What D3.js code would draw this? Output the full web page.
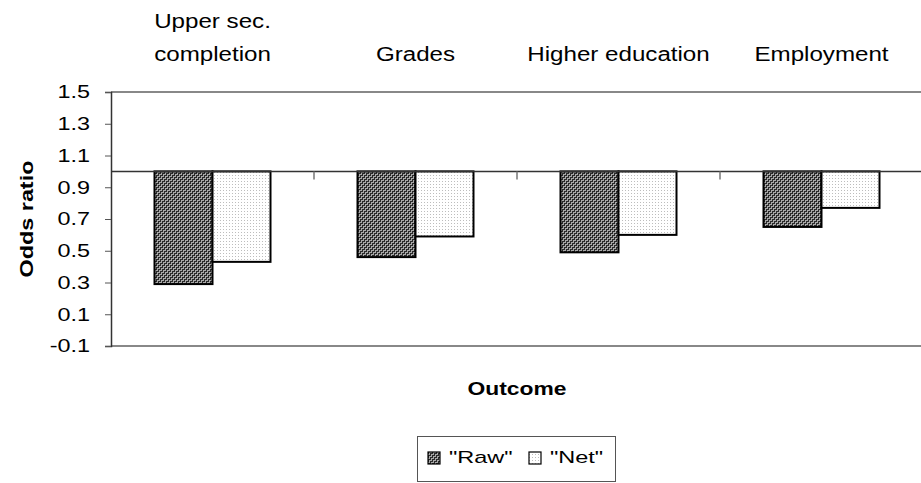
<!DOCTYPE html>
<html>
<head>
<meta charset="utf-8">
<script src="https://cdn.jsdelivr.net/npm/d3@7"></script>
<style>
  body { margin: 0; background: #fff; }
  svg { display: block; font-family: "Liberation Sans", Arial, sans-serif; }
</style>
</head>
<body>
<svg id="chart" width="921" height="483"></svg>
<script>
const categories = [["Upper sec.", "completion"], ["Grades"], ["Higher education"], ["Employment"]];
const categoryKeys = ["Upper sec. completion", "Grades", "Higher education", "Employment"];
const seriesNames = ["\"Raw\"", "\"Net\""];
const rawValues = [0.29, 0.46, 0.49, 0.65];
const netValues = [0.43, 0.59, 0.60, 0.77];
const yTicks = [-0.1, 0.1, 0.3, 0.5, 0.7, 0.9, 1.1, 1.3, 1.5];
const baseline = 1.0;

(function () {
const svg = d3.select("#chart");
const W = 921;
const pLeft = 111, pRight = 923, pTop = 92, pBottom = 346;

// helper: horizontally stretched text (reference text is widened)
function sText(parent, tf, str, size, sx, anchor, weight) {
  const g = parent.append("g").attr("transform", tf + ` scale(${sx},1)`);
  return g.append("text").attr("x", 0).attr("y", 0)
    .attr("text-anchor", anchor || "start")
    .attr("font-size", size).attr("font-weight", weight || "normal")
    .attr("fill", "#000").text(str);
}

const defs = svg.append("defs");
// Raw: dark fine diagonal hatch
const p1 = defs.append("pattern").attr("id", "rawPat").attr("patternUnits", "userSpaceOnUse")
  .attr("width", 4).attr("height", 4);
p1.append("rect").attr("width", 4).attr("height", 4).attr("fill", "#a8a8a8");
for (let x = 0; x < 4; x++) for (let yy = 0; yy < 4; yy++) {
  if ((x + yy) % 4 === 0 || (x + yy) % 2 === 1 && (x % 2 === 0)) {
    p1.append("rect").attr("x", x).attr("y", yy).attr("width", 1).attr("height", 1).attr("fill", "#2a2a2a");
  }
}
// Net: light dotted
const p2 = defs.append("pattern").attr("id", "netPat").attr("patternUnits", "userSpaceOnUse")
  .attr("width", 3).attr("height", 3);
p2.append("rect").attr("width", 3).attr("height", 3).attr("fill", "#fff");
p2.append("rect").attr("x", 1).attr("y", 1).attr("width", 1).attr("height", 1).attr("fill", "#bdbdbd");

const y = d3.scaleLinear().domain([-0.1, 1.5]).range([pBottom, pTop]);
const xs = d3.scaleBand().domain(categoryKeys).range([pLeft, pRight]).padding(0);
const step = xs.step();
const barW = step / 3.5;  // gap width 150%
const xi = d3.scaleBand().domain([0, 1]).range([0, 2 * barW]);

// plot area border top/bottom
svg.append("line").attr("x1", pLeft).attr("x2", W).attr("y1", y(1.5)).attr("y2", y(1.5))
  .attr("stroke", "#888").attr("stroke-width", 2);
svg.append("line").attr("x1", pLeft).attr("x2", W).attr("y1", y(-0.1)).attr("y2", y(-0.1))
  .attr("stroke", "#888").attr("stroke-width", 2);

// bars
const series = [rawValues, netValues];
const fills = ["url(#rawPat)", "url(#netPat)"];
series.forEach((vals, si) => {
  svg.append("g").selectAll("rect").data(vals).join("rect")
    .attr("x", (d, i) => xs(categoryKeys[i]) + (step - 2 * barW) / 2 + xi(si))
    .attr("y", d => y(Math.max(d, baseline)))
    .attr("width", barW)
    .attr("height", d => Math.abs(y(d) - y(baseline)))
    .attr("fill", fills[si])
    .attr("stroke", "#000").attr("stroke-width", 2);
});

// category axis at 1.0
svg.append("line").attr("x1", pLeft).attr("x2", W).attr("y1", y(baseline)).attr("y2", y(baseline))
  .attr("stroke", "#333").attr("stroke-width", 1.5);
svg.append("g").selectAll("line").data(categoryKeys.slice(1)).join("line")
  .attr("x1", d => xs(d)).attr("x2", d => xs(d))
  .attr("y1", y(baseline)).attr("y2", y(baseline) + 8)
  .attr("stroke", "#777").attr("stroke-width", 1.5);

// y axis
const yAxis = d3.axisLeft(y).tickValues(yTicks).tickSize(6)
  .tickFormat(d => d.toFixed(1));
const ga = svg.append("g").attr("transform", `translate(${pLeft},0)`).call(yAxis);
ga.select(".domain").attr("stroke", "#333").attr("stroke-width", 1.5);
ga.selectAll(".tick line").attr("stroke", "#555");
ga.selectAll(".tick text").attr("x", null)
  .attr("transform", "translate(-21,0) scale(1.3,1)")
  .attr("font-size", 18).attr("fill", "#000")
  .attr("font-family", "Liberation Sans, Arial, sans-serif");

// category labels on top
categories.forEach((lines, i) => {
  const cx = xs(categoryKeys[i]) + step / 2;
  const n = lines.length;
  lines.forEach((ln, j) => {
    sText(svg, `translate(${cx},${61 - (n - 1 - j) * 33})`, ln, 21, 1.15, "middle");
  });
});

// axis titles
sText(svg, `translate(33,${(y(1.5) + y(-0.1)) / 2}) rotate(-90)`, "Odds ratio", 19, 1.23, "middle", "bold");
sText(svg, `translate(517,395)`, "Outcome", 18, 1.27, "middle", "bold");

// legend
const lg = svg.append("g");
lg.append("rect").attr("x", 417.5).attr("y", 436.5).attr("width", 198).attr("height", 45)
  .attr("fill", "#fff").attr("stroke", "#555").attr("stroke-width", 1);
const legX = [428, 529];
seriesNames.forEach((nm, i) => {
  lg.append("rect").attr("x", legX[i]).attr("y", 452).attr("width", 12).attr("height", 12)
    .attr("fill", fills[i]).attr("stroke", "#000").attr("stroke-width", 1.2);
  sText(lg, `translate(${legX[i] + 21},463)`, nm, 17, 1.38, "start");
});
})();
</script>
</body>
</html>
